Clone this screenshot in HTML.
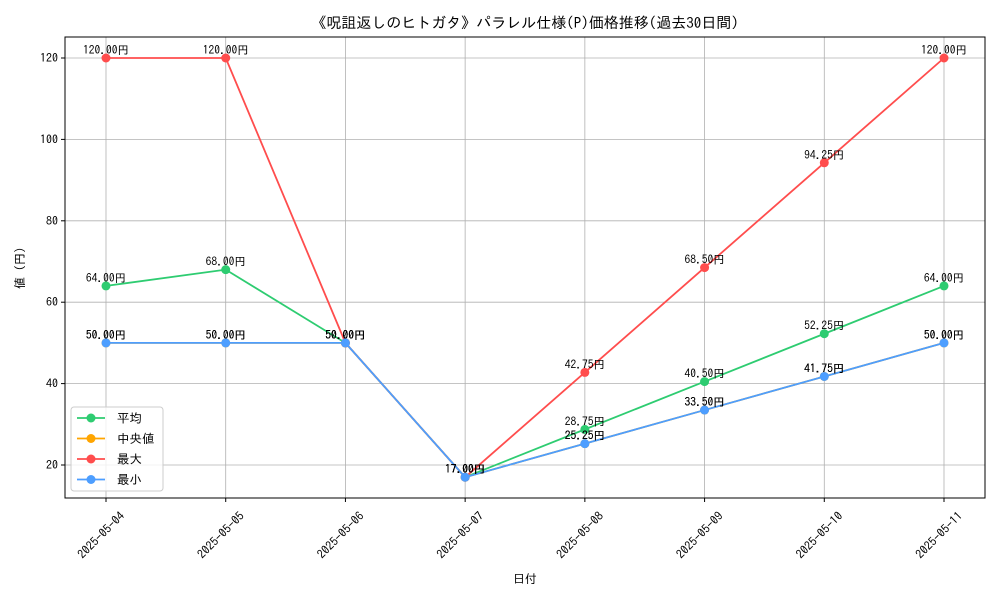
<!DOCTYPE html>
<html><head><meta charset="utf-8"><style>
body{margin:0;background:#fff;}
svg{font-family:"IPAGothic","Liberation Sans","Noto Sans CJK JP",sans-serif;}
</style></head><body>
<svg id="c" width="1000" height="600" viewBox="0 0 1000 600" xmlns="http://www.w3.org/2000/svg">
<rect width="1000" height="600" fill="#fff"/>
<text x="525" y="28" text-anchor="middle" font-size="15">《呪詛返しのヒトガタ》パラレル仕様(P)価格推移(過去30日間)</text>
<g id="grid"></g><g id="axes"></g><g id="series"></g><g id="labels"></g>
<text x="525" y="583" text-anchor="middle" font-size="12">日付</text>
<text transform="translate(24,268) rotate(-90)" text-anchor="middle" font-size="12">値 (円)</text>
<g>
<rect x="71" y="407" width="92" height="84" rx="3" fill="#fff" fill-opacity="0.8" stroke="#ccc"/>
<g id="legend"></g>
</g>
</svg>
<script>
const categories=["2025-05-04","2025-05-05","2025-05-06","2025-05-07","2025-05-08","2025-05-09","2025-05-10","2025-05-11"];
const meanVals=[64,68,50,17,28.75,40.5,52.25,64];
const medianVals=[50,50,50,17,25.25,33.5,41.75,50];
const maxVals=[120,120,50,17,42.75,68.5,94.25,120];
const minVals=[50,50,50,17,25.25,33.5,41.75,50];
const yTicks=[20,40,60,80,100,120];
const seriesNames=["平均","中央値","最大","最小"];
const NS="http://www.w3.org/2000/svg";
const L=65,R=985,T=37,B=498;
const x=i=>106+i*(944-106)/(categories.length-1);
const y=v=>465-(v-20)*(465-58)/100;
function mk(tag,attrs,parent){const e=document.createElementNS(NS,tag);for(const k in attrs)e.setAttribute(k,attrs[k]);parent.appendChild(e);return e;}
const grid=document.getElementById('grid'),axes=document.getElementById('axes');
yTicks.forEach(t=>{
 const g=mk('line',{x1:L,x2:R,y1:y(t),y2:y(t),stroke:'#b0b0b0','stroke-width':0.8},grid);
 
 
 mk('line',{x1:L-4,x2:L,y1:y(t),y2:y(t),stroke:'#000'},axes);
 const tx=mk('text',{x:L-7,y:y(t)+4,'text-anchor':'end','font-size':12},axes);
 tx.textContent=t;
 
 
});
categories.forEach((c,i)=>{
 const g=mk('line',{x1:x(i),x2:x(i),y1:T,y2:B,stroke:'#b0b0b0','stroke-width':0.8},grid);
 
 
 mk('line',{x1:x(i),x2:x(i),y1:B,y2:B+4,stroke:'#000'},axes);
 const tx=mk('text',{x:0,y:0,'text-anchor':'middle','font-size':12,transform:`translate(${x(i)-2},${B+40}) rotate(-45)`},axes);
 tx.textContent=c;
 
 
});
const fr=mk('rect',{x:L,y:T,width:R-L,height:B-T,fill:'none',stroke:'#000','stroke-width':1},axes);


const all=[meanVals,medianVals,maxVals,minVals];
const colors=["#2ecc71","#ffa500","#ff4d4d","#4d9eff"];
const sg=document.getElementById('series'),lg=document.getElementById('labels');
all.forEach((vals,s)=>{
 const g=mk('g',{},sg);
 
 
 const p=mk('polyline',{points:vals.map((v,i)=>x(i)+','+y(v)).join(' '),fill:'none',stroke:colors[s],'stroke-width':1.8},g);
 
 
 vals.forEach((v,i)=>{
  const c=mk('circle',{cx:x(i),cy:y(v),r:4.5,fill:colors[s]},g);
  
  
  const t=mk('text',{x:x(i),y:y(v)-4,'text-anchor':'middle','font-size':11.5},lg);
  t.textContent=v.toFixed(2)+'円';
  
  
 });
});
const leg=document.getElementById('legend');
seriesNames.forEach((n,s)=>{
 const yy=418+s*20.5;
 const g=mk('g',{},leg);
 
 
 mk('line',{x1:77,x2:105,y1:yy,y2:yy,stroke:colors[s],'stroke-width':1.8},g);
 mk('circle',{cx:91,cy:yy,r:4.5,fill:colors[s]},g);
 const t=mk('text',{x:117,y:yy+4.5,'font-size':12.5},g);
 t.textContent=n;
});
</script>
</body></html>
